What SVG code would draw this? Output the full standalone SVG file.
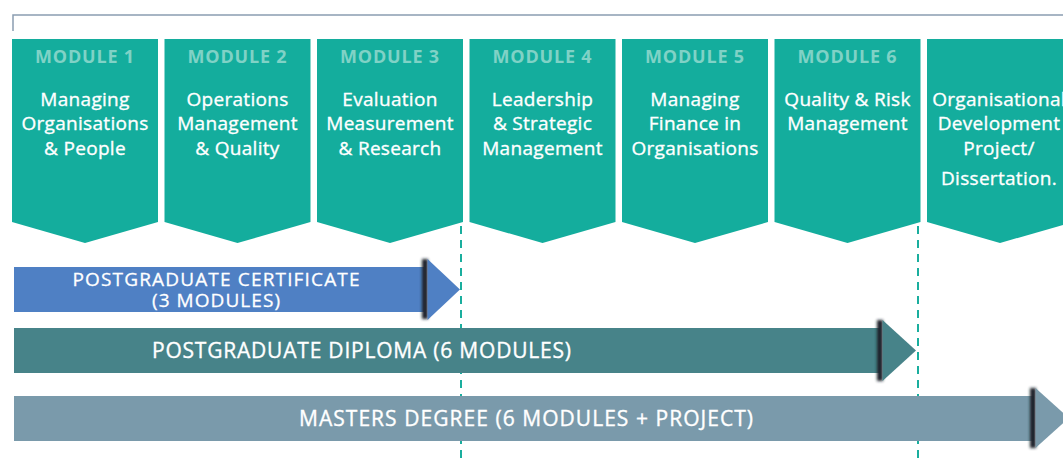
<svg xmlns="http://www.w3.org/2000/svg" width="1063" height="460" viewBox="0 0 1063 460">
<defs>
<style>
.mod{fill:#14AD9D}
.lbl{font-family:"Open Sans",Lato,sans-serif;font-weight:bold;font-size:18px;letter-spacing:0.8px;fill:#80D2C6;text-anchor:middle}
.ttl{font-family:"Open Sans",Lato,sans-serif;font-size:19px;letter-spacing:0.3px;fill:#FFFFFF;stroke:#FFFFFF;stroke-width:0.35px;text-anchor:middle}
.bar{font-family:"Open Sans",Lato,sans-serif;font-size:21px;fill:#FFFFFF;stroke:#FFFFFF;stroke-width:0.35px;text-anchor:middle}
.bar2{font-family:"Open Sans",Lato,sans-serif;font-size:19px;fill:#FFFFFF;stroke:#FFFFFF;stroke-width:0.3px;text-anchor:middle}
.dash{stroke:#1AAE9E;stroke-width:2;stroke-dasharray:8 6;fill:none}
.shade{fill:#1E242A;filter:url(#blur)}
</style>
<filter id="blur" x="-2" y="-0.2" width="5" height="1.4"><feGaussianBlur stdDeviation="1.8"/></filter>
<path id="chev" d="M0,0 H146 V183 L73,204 L0,183 Z"/>
</defs>
<rect width="1063" height="460" fill="#FFFFFF"/>
<path d="M13,31 V15 H1063" fill="none" stroke="#8B9DB1" stroke-width="1.5"/>

<g id="module1"><use href="#chev" class="mod" x="12" y="39"/>
<text class="lbl" x="85" y="63">MODULE 1</text>
<text class="ttl" x="85" y="106">Managing</text><text class="ttl" x="85" y="130">Organisations</text><text class="ttl" x="85" y="155">&amp; People</text></g>
<g id="module2"><use href="#chev" class="mod" x="164.5" y="39"/>
<text class="lbl" x="237.5" y="63">MODULE 2</text>
<text class="ttl" x="237.5" y="106">Operations</text><text class="ttl" x="237.5" y="130">Management</text><text class="ttl" x="237.5" y="155">&amp; Quality</text></g>
<g id="module3"><use href="#chev" class="mod" x="317" y="39"/>
<text class="lbl" x="390" y="63">MODULE 3</text>
<text class="ttl" x="390" y="106">Evaluation</text><text class="ttl" x="390" y="130">Measurement</text><text class="ttl" x="390" y="155">&amp; Research</text></g>
<g id="module4"><use href="#chev" class="mod" x="469.5" y="39"/>
<text class="lbl" x="542.5" y="63">MODULE 4</text>
<text class="ttl" x="542.5" y="106">Leadership</text><text class="ttl" x="542.5" y="130">&amp; Strategic</text><text class="ttl" x="542.5" y="155">Management</text></g>
<g id="module5"><use href="#chev" class="mod" x="622" y="39"/>
<text class="lbl" x="695" y="63">MODULE 5</text>
<text class="ttl" x="695" y="106">Managing</text><text class="ttl" x="695" y="130">Finance in</text><text class="ttl" x="695" y="155">Organisations</text></g>
<g id="module6"><use href="#chev" class="mod" x="774.5" y="39"/>
<text class="lbl" x="847.5" y="63">MODULE 6</text>
<text class="ttl" x="847.5" y="106">Quality &amp; Risk</text><text class="ttl" x="847.5" y="130">Management</text></g>
<g id="module7"><use href="#chev" class="mod" x="927" y="39"/>
<text class="ttl" x="999" y="106">Organisational</text><text class="ttl" x="999" y="130">Development</text><text class="ttl" x="999" y="155">Project/</text><text class="ttl" x="999" y="185">Dissertation.</text></g>

<g id="connectors">
<line class="dash" x1="461" y1="226" x2="461" y2="460"/>
<line class="dash" x1="918" y1="226" x2="918" y2="460"/>
</g>

<g id="pg-certificate">
<rect x="14" y="267" width="410" height="45" fill="#4F80C4"/>
<rect class="shade" x="422" y="259" width="6" height="60"/>
<path d="M427.5,259 L460,289.5 L427.5,320 Z" fill="#4F80C4"/>
<text class="bar2" x="216" y="286" textLength="287" lengthAdjust="spacing">POSTGRADUATE CERTIFICATE</text>
<text class="bar2" x="216" y="306.5" textLength="128" lengthAdjust="spacing">(3 MODULES)</text>
</g>
<g id="pg-diploma">
<rect x="14" y="328" width="866" height="45" fill="#478389"/>
<rect class="shade" x="877" y="320" width="6" height="61"/>
<path d="M882.5,320 L916,350.5 L882.5,381 Z" fill="#478389"/>
<text class="bar" x="361.5" y="357.5" textLength="419" lengthAdjust="spacing">POSTGRADUATE DIPLOMA (6 MODULES)</text>
</g>
<g id="masters">
<rect x="14" y="396" width="1020" height="45" fill="#7A9AAB"/>
<rect class="shade" x="1030" y="388" width="6" height="60"/>
<path d="M1035.5,388 L1069,418 L1035.5,448 Z" fill="#7A9AAB"/>
<text class="bar" x="526" y="425.5" textLength="454" lengthAdjust="spacing">MASTERS DEGREE (6 MODULES + PROJECT)</text>
</g>
</svg>
